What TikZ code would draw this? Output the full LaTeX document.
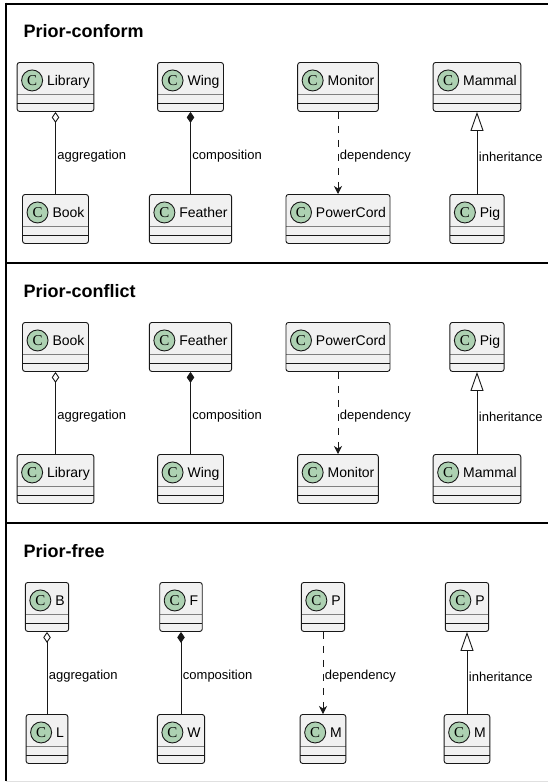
\documentclass[tikz,border=0pt]{standalone}
\usepackage{fontspec}
\setmainfont{Liberation Sans}
\newfontfamily\spotfont{Liberation Serif}
\usetikzlibrary{arrows.meta}
\definecolor{boxfill}{HTML}{F1F1F1}
\definecolor{boxline}{HTML}{181818}
\definecolor{spotfill}{HTML}{ADD1B2}
\tikzset{
  umlclass/.style={draw=boxline, fill=boxfill, line width=0.9pt, rounded corners=2.5pt,
    anchor=north, inner xsep=4pt, inner ysep=0pt, text height=23.5pt, text depth=25.5pt,
    font=\fontsize{14}{16}\selectfont,
    path picture={
      \draw[boxline!55, line width=1.2pt] ([yshift=-32pt]path picture bounding box.north west) -- ([yshift=-32pt]path picture bounding box.north east);
      \draw[boxline, line width=0.9pt] ([yshift=-40.5pt]path picture bounding box.north west) -- ([yshift=-40.5pt]path picture bounding box.north east);
      \draw[boxline, fill=spotfill, line width=0.9pt] ([xshift=15pt,yshift=-18pt]path picture bounding box.north west) circle (10.5pt);
      \node[font=\spotfont\fontsize{15}{15}\selectfont, anchor=center, inner sep=0pt, text height=10pt, text depth=0pt]
        at ([xshift=15pt,yshift=-18pt]path picture bounding box.north west) {C};
    }},
  paneltitle/.style={anchor=base west, inner sep=0pt, font=\bfseries\fontsize{18}{20}\selectfont},
  rel/.style={anchor=west, inner sep=1.5pt, yshift=-3.5pt, font=\fontsize{13}{15}\selectfont},
  link/.style={draw=boxline, line width=0.9pt},
  aggr/.style={link, {Diamond[open, length=11pt, width=7.5pt]}-},
  compo/.style={link, {Diamond[length=11pt, width=7.5pt]}-},
  depend/.style={link, dash pattern=on 7pt off 7pt, -{Stealth[length=8pt, width=8pt, inset=2.5pt]}},
  inherit/.style={link, {Triangle[open, length=19pt, width=13pt]}-},
  frame/.style={line width=2pt},
}
\begin{document}
\begin{tikzpicture}[x=1pt, y=-1pt]
\useasboundingbox (0,0) rectangle (548,782);

% frame
\draw[frame] (6,3.5) -- (548,3.5);
\draw[frame] (6,2.5) -- (6,781);
\draw[frame] (6,263) -- (548,263);
\draw[frame] (6,523) -- (548,523);
\draw[black!12, line width=1pt] (6,781.5) -- (548,781.5);

% Prior-conform
\node[paneltitle] (t1) at (23.5,37.5) {Prior-conform};
\node[umlclass] (lib1) at (55.5,62) {\hspace*{26pt}Library};
\node[umlclass] (book1) at (55.5,194) {\hspace*{26pt}Book};
\node[umlclass] (wing1) at (190.5,62) {\hspace*{26pt}Wing};
\node[umlclass] (feather1) at (190.5,194) {\hspace*{26pt}Feather};
\node[umlclass] (monitor1) at (338,62) {\hspace*{26pt}Monitor};
\node[umlclass] (cord1) at (338,194) {\hspace*{26pt}PowerCord};
\node[umlclass] (mammal1) at (477,62) {\hspace*{26pt}Mammal};
\node[umlclass] (pig1) at (477,194) {\hspace*{26pt}Pig};
\draw[aggr] (lib1.south) -- node[rel] (agg1) {aggregation} (book1.north);
\draw[compo] (wing1.south) -- node[rel] (com1) {composition} (feather1.north);
\draw[depend] (monitor1.south) -- node[rel] (dep1) {dependency} (cord1.north);
\draw[inherit] (mammal1.south) -- node[rel] (inh1) {inheritance} (pig1.north);

% Prior-conflict
\node[paneltitle] (t2) at (23.5,297.5) {Prior-conflict};
\node[umlclass] (book2) at (55.5,322) {\hspace*{26pt}Book};
\node[umlclass] (lib2) at (55.5,454) {\hspace*{26pt}Library};
\node[umlclass] (feather2) at (190.5,322) {\hspace*{26pt}Feather};
\node[umlclass] (wing2) at (190.5,454) {\hspace*{26pt}Wing};
\node[umlclass] (cord2) at (338,322) {\hspace*{26pt}PowerCord};
\node[umlclass] (monitor2) at (338,454) {\hspace*{26pt}Monitor};
\node[umlclass] (pig2) at (477,322) {\hspace*{26pt}Pig};
\node[umlclass] (mammal2) at (477,454) {\hspace*{26pt}Mammal};
\draw[aggr] (book2.south) -- node[rel] (agg2) {aggregation} (lib2.north);
\draw[compo] (feather2.south) -- node[rel] (com2) {composition} (wing2.north);
\draw[depend] (cord2.south) -- node[rel] (dep2) {dependency} (monitor2.north);
\draw[inherit] (pig2.south) -- node[rel] (inh2) {inheritance} (mammal2.north);

% Prior-free
\node[paneltitle] (t3) at (23.5,557.5) {Prior-free};
\node[umlclass] (b3) at (47,582) {\hspace*{26pt}B};
\node[umlclass] (l3) at (47,714) {\hspace*{26pt}L};
\node[umlclass] (f3) at (181,582) {\hspace*{26pt}F};
\node[umlclass] (w3) at (181,714) {\hspace*{26pt}W};
\node[umlclass] (pa3) at (323,582) {\hspace*{26pt}P};
\node[umlclass] (ma3) at (323,714) {\hspace*{26pt}M};
\node[umlclass] (pb3) at (467,582) {\hspace*{26pt}P};
\node[umlclass] (mb3) at (467,714) {\hspace*{26pt}M};
\draw[aggr] (b3.south) -- node[rel] (agg3) {aggregation} (l3.north);
\draw[compo] (f3.south) -- node[rel] (com3) {composition} (w3.north);
\draw[depend] (pa3.south) -- node[rel] (dep3) {dependency} (ma3.north);
\draw[inherit] (pb3.south) -- node[rel] (inh3) {inheritance} (mb3.north);

\end{tikzpicture}
\end{document}
